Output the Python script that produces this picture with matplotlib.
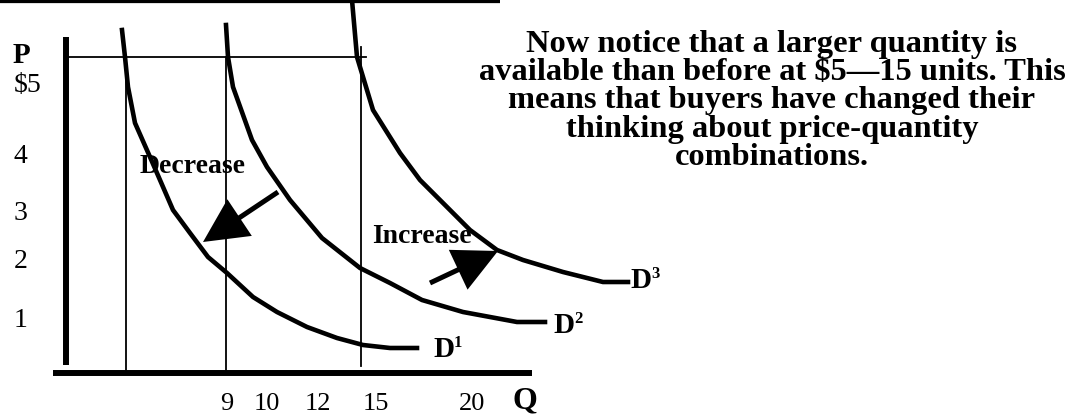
import matplotlib
matplotlib.use("Agg")
import matplotlib.pyplot as plt

# Diagram drawn on a pixel-sized canvas (x to the right, y downward)
W, H = 1077, 417

# Demand curves as polylines (x, y) on the canvas
d1_x = [122, 125, 128, 135, 150, 160, 173, 190, 208, 227, 253, 277, 307, 337, 363, 390, 417]
d1_y = [30, 57, 87, 123, 157, 180, 210, 233, 257, 273, 297, 312, 327, 338, 345, 348, 348]
d2_x = [226, 228, 233, 252, 267, 290, 322, 360, 390, 422, 463, 517, 545]
d2_y = [25, 57, 87, 140, 167, 200, 238, 268, 283, 300, 312, 322, 322]
d3_x = [352, 357, 373, 400, 420, 440, 470, 497, 523, 563, 603, 628]
d3_y = [0, 57, 110, 153, 180, 200, 230, 250, 260, 272, 282, 282]

# Price labels on the vertical axis and quantity labels under the horizontal axis
p_labels = ["$5", "4", "3", "2", "1"]
p_label_y = [92, 163, 220, 268, 327]
q_labels = ["9", "10", "12", "15", "20"]
q_label_x = [227, 267, 318, 376, 472]

# Guide lines: price $5 level and quantities
price5_y = 57
guide_x = [126, 226, 361]
guide_top = [57, 57, 47]
guide_bottom = [373, 373, 366]

# Explanatory note, one entry per line
note_lines = [
    "Now notice that a larger quantity is",
    "available than before at $5\u201415 units. This",
    "means that buyers have changed their",
    "thinking about price-quantity",
    "combinations.",
]
note_baselines = [52, 80, 108, 137, 165]

SERIF = ["Liberation Serif", "DejaVu Serif"]
K = "black"

fig = plt.figure(figsize=(W / 100, H / 100), dpi=100)
ax = fig.add_axes([0, 0, 1, 1])
ax.set_xlim(0, W)
ax.set_ylim(H, 0)
ax.axis("off")

# frame line along the top edge
ax.plot([0, 500], [0, 0], color=K, lw=4.5, solid_capstyle="butt")

# axes
ax.plot([66, 66], [37, 365], color=K, lw=4.3, solid_capstyle="butt")
ax.plot([53, 532], [373, 373], color=K, lw=4.3, solid_capstyle="butt")

# guides
ax.plot([68, 366], [price5_y, price5_y], color=K, lw=1.3)
for gx, gt, gb in zip(guide_x, guide_top, guide_bottom):
    ax.plot([gx, gx], [gt, gb], color=K, lw=1.3)

# demand curves
for xs, ys in ((d1_x, d1_y), (d2_x, d2_y), (d3_x, d3_y)):
    ax.plot(xs, ys, color=K, lw=3.3, solid_joinstyle="miter")

# shift arrows
ax.arrow(278, 192, 203 - 278, 242 - 192, width=5, head_width=44, head_length=44,
         length_includes_head=True, color=K, lw=0)
ax.arrow(430, 283, 498 - 430, 251 - 283, width=5, head_width=44, head_length=44,
         length_includes_head=True, color=K, lw=0)

# axis labels
ax.text(13, 63, "P", family=SERIF, weight="bold", fontsize=21, va="baseline")
for lab, y in zip(p_labels, p_label_y):
    ax.text(14, y, lab, family=SERIF, fontsize=20, va="baseline")
for lab, x in zip(q_labels, q_label_x):
    ax.text(x, 410, lab, family=SERIF, fontsize=19, va="baseline", ha="center")
ax.text(525, 408, "Q", family=SERIF, weight="bold", fontsize=23, va="baseline", ha="center")

# curve names
for x, y, sub in ((433, 357, "1"), (553, 333, "2"), (630, 288, "3")):
    ax.text(x, y, "D", family=SERIF, weight="bold", fontsize=21, va="baseline")
    ax.text(x + 21, y - 10, sub, family=SERIF, weight="bold", fontsize=12, va="baseline")

ax.text(140, 173, "Decrease", family=SERIF, weight="bold", fontsize=20, va="baseline")
ax.text(372, 243, "Increase", family=SERIF, weight="bold", fontsize=20, va="baseline")

for line, yb in zip(note_lines, note_baselines):
    ax.text(772, yb, line, family=SERIF, weight="bold", fontsize=23.4,
            ha="center", va="baseline")

fig.savefig("out.png", dpi=100, facecolor="white")
